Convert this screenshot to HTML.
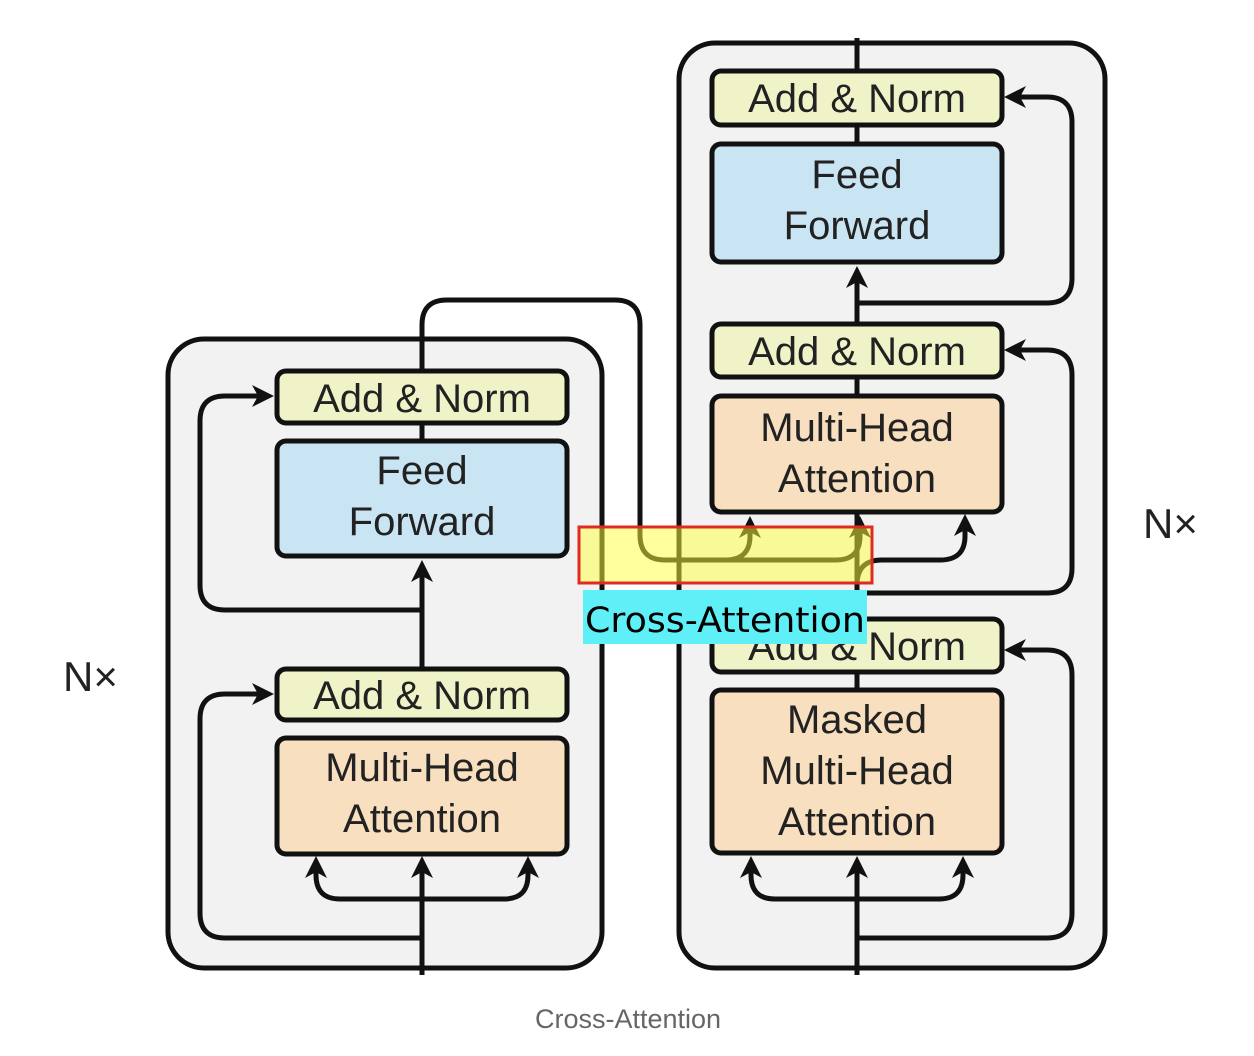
<!DOCTYPE html>
<html><head><meta charset="utf-8"><style>
html,body{margin:0;padding:0;background:#fff;width:1254px;height:1056px;overflow:hidden}
svg text{font-family:"Liberation Sans",sans-serif}
</style></head><body>
<svg width="1254" height="1056" viewBox="0 0 1254 1056" xmlns="http://www.w3.org/2000/svg">
<g stroke="#111" stroke-width="5" fill="#f2f2f2">
<rect x="168" y="339" width="434" height="629" rx="36"/>
<rect x="679" y="43" width="426" height="925" rx="36"/>
</g>
<g stroke="#111" stroke-width="5" fill="none" stroke-linejoin="round">
<path d="M422 975 V862"/>
<path d="M422 899 H340 Q316 899 316 875 V862"/>
<path d="M422 899 H504 Q528 899 528 875 V862"/>
<path d="M422 938 H225 Q200 938 200 913 V719 Q200 694 225 694 H266"/>
<path d="M422 720 V570"/>
<path d="M422 610 H225 Q200 610 200 585 V421 Q200 396 225 396 H266"/>
<path d="M422 440 V423"/>
<path d="M422 370 V325 Q422 300 447 300 H615 Q640 300 640 325 V535 Q640 560 665 560 H836 Q860 560 860 536 V528"/>
<path d="M725 560 Q750 560 750 536 V528"/>
<path d="M857 975 V862"/>
<path d="M857 899 H775 Q751 899 751 875 V862"/>
<path d="M857 899 H939 Q963 899 963 875 V862"/>
<path d="M857 938 H1047 Q1072 938 1072 913 V675 Q1072 650 1047 650 H1012"/>
<path d="M857 689 V672"/>
<path d="M857 618 V512"/>
<path d="M857 593 H1047 Q1072 593 1072 568 V375 Q1072 350 1047 350 H1012"/>
<path d="M857 585 Q857 560 882 560 H940 Q965 560 965 536 V525"/>
<path d="M857 395 V377"/>
<path d="M857 323 V272"/>
<path d="M857 303 H1047 Q1072 303 1072 278 V122 Q1072 97 1047 97 H1012"/>
<path d="M857 143 V125"/>
<path d="M857 70 V38"/>
</g>
<g fill="#111">
<path d="M316 856 l-11 22 l11 -6 l11 6z"/>
<path d="M422 856 l-11 22 l11 -6 l11 6z"/>
<path d="M528 856 l-11 22 l11 -6 l11 6z"/>
<path d="M422 560 l-11 22 l11 -6 l11 6z"/>
<path d="M751 856 l-11 22 l11 -6 l11 6z"/>
<path d="M857 856 l-11 22 l11 -6 l11 6z"/>
<path d="M963 856 l-11 22 l11 -6 l11 6z"/>
<path d="M857 266 l-11 22 l11 -6 l11 6z"/>
<path d="M750 516 l-11 22 l11 -6 l11 6z"/>
<path d="M860 516 l-11 22 l11 -6 l11 6z"/>
<path d="M965 514 l-11 22 l11 -6 l11 6z"/>
<path d="M274 694 l-22 -11 l6 11 l-6 11z"/>
<path d="M274 396 l-22 -11 l6 11 l-6 11z"/>
<path d="M1004 650 l22 -11 l-6 11 l6 11z"/>
<path d="M1004 350 l22 -11 l-6 11 l6 11z"/>
<path d="M1004 97 l22 -11 l-6 11 l6 11z"/>
</g>
<g stroke="#111" stroke-width="5">
<rect x="277" y="371" width="290" height="52" rx="9" fill="#f0f2c8"/>
<rect x="277" y="441" width="290" height="115" rx="9" fill="#c9e5f3"/>
<rect x="277" y="669" width="290" height="51" rx="9" fill="#f0f2c8"/>
<rect x="277" y="738" width="290" height="116" rx="9" fill="#f8dfbf"/>
<rect x="712" y="71" width="290" height="54" rx="9" fill="#f0f2c8"/>
<rect x="712" y="144" width="290" height="118" rx="9" fill="#c9e5f3"/>
<rect x="712" y="324" width="290" height="53" rx="9" fill="#f0f2c8"/>
<rect x="712" y="396" width="290" height="116" rx="9" fill="#f8dfbf"/>
<rect x="712" y="619" width="290" height="53" rx="9" fill="#f0f2c8"/>
<rect x="712" y="690" width="290" height="163" rx="9" fill="#f8dfbf"/>
</g>
<g font-size="40" fill="#222" text-anchor="middle">
<text x="422" y="412">Add &amp; Norm</text>
<text x="422" y="484">Feed</text>
<text x="422" y="535">Forward</text>
<text x="422" y="709">Add &amp; Norm</text>
<text x="422" y="781">Multi-Head</text>
<text x="422" y="832">Attention</text>
<text x="857" y="112">Add &amp; Norm</text>
<text x="857" y="188">Feed</text>
<text x="857" y="239">Forward</text>
<text x="857" y="365">Add &amp; Norm</text>
<text x="857" y="441">Multi-Head</text>
<text x="857" y="492">Attention</text>
<text x="857" y="660">Add &amp; Norm</text>
<text x="857" y="733">Masked</text>
<text x="857" y="784">Multi-Head</text>
<text x="857" y="835">Attention</text>
</g>
<g font-size="42" fill="#222">
<text x="63" y="691">N×</text>
<text x="1143" y="538">N×</text>
</g>
<rect x="579" y="527" width="293" height="56" fill="rgba(255,255,60,0.5)" stroke="#e02a22" stroke-width="3"/>
<rect x="583" y="590" width="284" height="54" fill="#5ef0f6"/>
<text x="725" y="632" font-size="35" fill="#000" text-anchor="middle" style="font-family:'DejaVu Sans',sans-serif" textLength="280" lengthAdjust="spacingAndGlyphs">Cross-Attention</text>
<text x="628" y="1028" font-size="27" fill="#666" text-anchor="middle">Cross-Attention</text>
</svg>
</body></html>
